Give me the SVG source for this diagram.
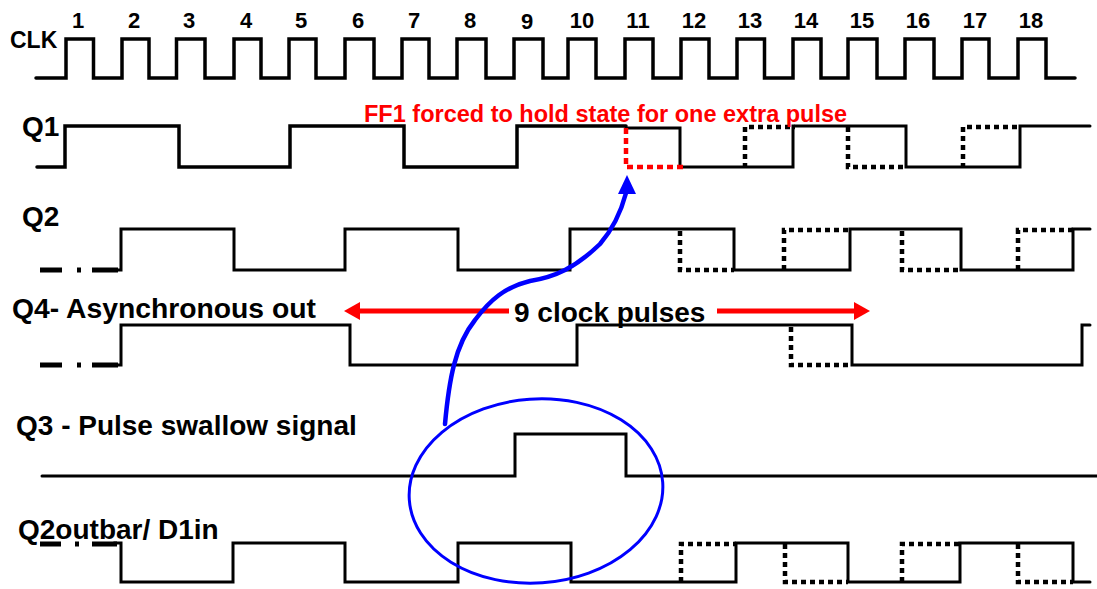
<svg xmlns="http://www.w3.org/2000/svg" width="1097" height="589" viewBox="0 0 1097 589">
<style>
.w{fill:none;stroke:#000;stroke-width:3;stroke-linejoin:miter;stroke-linecap:round}
.wt{fill:none;stroke:#000;stroke-width:3.5;stroke-linecap:round}
.dd{fill:none;stroke:#000;stroke-width:5}
.dot{fill:none;stroke:#000;stroke-width:4.5;stroke-dasharray:5 4}
.rdot{fill:none;stroke:#f00;stroke-width:4.5;stroke-dasharray:6 4}
.lbl{font-family:"Liberation Sans",Arial,sans-serif;font-weight:bold;font-size:28px;fill:#000}
.num{font-family:"Liberation Sans",Arial,sans-serif;font-weight:bold;font-size:22px;fill:#000;text-anchor:middle}
.red{fill:none;stroke:#f00;stroke-width:5}
.blue{fill:none;stroke:#00f;stroke-width:4.5;stroke-linecap:round}
</style>
<defs>
<marker id="rh" markerUnits="userSpaceOnUse" markerWidth="16" markerHeight="20" refX="1" refY="10" orient="auto">
<path d="M0,1 L16,10 L0,19 Z" fill="#f00"/>
</marker>
</defs>
<rect width="1097" height="589" fill="#fff"/>

<g id="clk">
<text class="lbl" x="10" y="48" style="font-size:23px">CLK</text>
<g class="num">
<text x="78" y="28">1</text><text x="134" y="28">2</text><text x="189" y="28">3</text><text x="246" y="28">4</text><text x="301" y="28">5</text><text x="358" y="28">6</text><text x="414" y="28">7</text><text x="470" y="28">8</text><text x="527" y="29">9</text><text x="582" y="28">10</text><text x="638" y="28">11</text><text x="694" y="28">12</text><text x="750" y="28">13</text><text x="806" y="28">14</text><text x="862" y="28">15</text><text x="918" y="28">16</text><text x="975" y="28">17</text><text x="1031" y="28">18</text>
</g>
<path class="wt" d="M36,78 H66 V39 H93.5 V78 H122 V39 H149 V78 H176.5 V39 H205 V78 H234 V39 H261 V78 H289 V39 H316 V78 H345 V39 H374 V78 H402 V39 H429 V78 H457 V39 H486 V78 H514 V39 H543 V78 H568 V39 H596 V78 H625 V39 H653 V78 H681 V39 H709 V78 H737 V39 H764.5 V78 H793 V39 H821 V78 H848 V39 H877 V78 H905 V39 H934 V78 H962 V39 H989 V78 H1018 V39 H1046 V78 H1075"/>
</g>

<g id="q1">
<text class="lbl" x="22" y="136">Q1</text>
<path class="wt" d="M37,167 H65 V126 H179 V167 H290 V126 H404 V167 H517 V126 H626"/>
<path class="w" d="M626,128 H680 V167 H793 V126 H906 V167 H1020 V126 H1090"/>
<path class="rdot" d="M626,128 V167 H685"/>
<path class="dot" d="M745,168 V127 H795"/>
<path class="dot" d="M848,127 V167 H906"/>
<path class="dot" d="M963,168 V127 H1018"/>
<text x="364" y="122" style="font-family:'Liberation Sans',Arial,sans-serif;font-weight:bold;font-size:23.5px;fill:#f00">FF1 forced to hold state for one extra pulse</text>
</g>

<g id="q2">
<text class="lbl" x="22" y="226">Q2</text>
<path class="dd" d="M40,270 H62 M77,270 H81 M92,270 H118"/>
<path class="w" d="M114,270 H121 V229 H234 V270 H345 V229 H458 V270 H570 V229 H734 V270 H850 V229 H961 V270 H1073 V229 H1090"/>
<path class="dot" d="M680,231 V270 H734"/>
<path class="dot" d="M784,270 V230 H850"/>
<path class="dot" d="M902,231 V270 H961"/>
<path class="dot" d="M1018,270 V230 H1073"/>
</g>

<g id="q4">
<text class="lbl" x="12" y="318" style="font-size:28.3px">Q4- Asynchronous out</text>
<path class="dd" d="M40,365 H62 M77,365 H81 M92,365 H118"/>
<path class="w" d="M114,365 H121 V325 H350 V365 H577 V325 H852 V365 H1082 V325 H1090"/>
<path class="dot" d="M791,327 V365 H852"/>
<text class="lbl" x="514" y="322">9 clock pulses</text>
</g>

<g id="q3">
<text class="lbl" x="16" y="435">Q3 - Pulse swallow signal</text>
<path class="w" d="M42,476 H515 V434 H626 V476 H1097"/>
</g>

<g id="q2bar">
<path class="dd" d="M40,544 H61 M75,544 H79 M92,544 H117"/>
<text class="lbl" x="18" y="539">Q2outbar/ D1in</text>
<path class="w" d="M114,543 H121 V582 H233 V543 H345 V582 H458 V543 H571 V582 H736 V543 H848 V582 H960 V543 H1073 V582 H1090"/>
<path class="dot" d="M681,582 V544 H736"/>
<path class="dot" d="M785,544 V582 H848"/>
<path class="dot" d="M902,582 V544 H960"/>
<path class="dot" d="M1018,544 V582 H1073"/>
</g>

<g id="connectors">
<path class="red" d="M509,311 H359" marker-end="url(#rh)"/>
<path class="red" d="M717,311 H855" marker-end="url(#rh)"/>
<path class="blue" d="M445,424 C449,380 455,345 475,320 C490,300 505,287 530,281 C555,277 575,268 600,244 C612,230 621,212 626,193"/>
<polygon points="627,175 618,194 636,194" fill="#00f"/>
<ellipse cx="536" cy="491" rx="127" ry="92" transform="rotate(-4 536 491)" fill="none" stroke="#00f" stroke-width="3"/>
</g>
</svg>
